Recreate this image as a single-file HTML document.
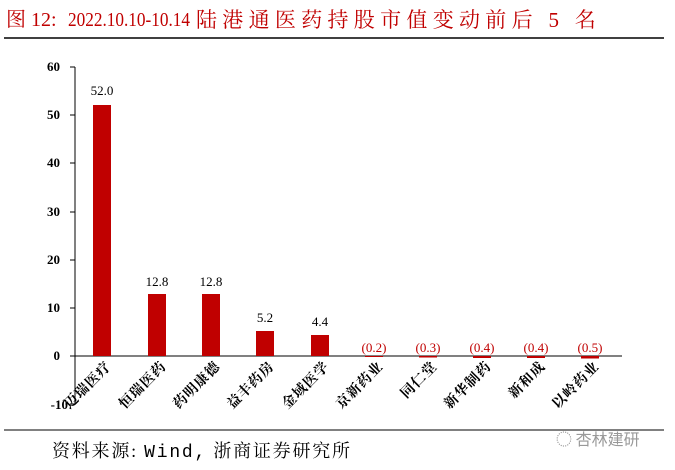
<!DOCTYPE html>
<html><head><meta charset="utf-8"><style>
body{margin:0;background:#fff;width:675px;height:465px;overflow:hidden}
</style></head><body>
<svg width="675" height="465" xmlns="http://www.w3.org/2000/svg" font-family="'Liberation Serif','Noto Serif CJK SC',serif">
<g fill="#c00000" font-size="20">
<text x="6" y="26">图 12:</text>
<text x="68" y="26" textLength="122" lengthAdjust="spacingAndGlyphs">2022.10.10-10.14</text>
<text x="196" y="27" font-size="21" letter-spacing="5.3">陆港通医药持股市值变动前后 5 名</text>
</g>
<line x1="4" y1="38" x2="664" y2="38" stroke="#000" stroke-width="1.5"/>
<line x1="4" y1="430" x2="664" y2="430" stroke="#000" stroke-width="1"/>
<text x="52" y="457" font-size="18" fill="#000" textLength="298" lengthAdjust="spacing">资料来源: <tspan font-family="'Liberation Mono',monospace">Wind,</tspan> 浙商证券研究所</text>
<text x="556" y="445" font-size="16" fill="#999" font-family="'Noto Sans CJK SC',sans-serif">◌ 杏林建研</text>
<g font-size="13" font-weight="bold" text-anchor="end">
<text x="60" y="71">60</text><text x="60" y="119">50</text><text x="60" y="167">40</text>
<text x="60" y="216">30</text><text x="60" y="264">20</text><text x="60" y="312">10</text>
<text x="60" y="360">0</text><text x="68" y="409">-10</text>
</g>
<g stroke="#000" stroke-width="1">
<line x1="75" y1="67" x2="75" y2="404"/>
<line x1="70" y1="67" x2="75" y2="67"/><line x1="70" y1="115" x2="75" y2="115"/><line x1="70" y1="163" x2="75" y2="163"/><line x1="70" y1="212" x2="75" y2="212"/><line x1="70" y1="260" x2="75" y2="260"/><line x1="70" y1="308" x2="75" y2="308"/><line x1="70" y1="356" x2="75" y2="356"/><line x1="70" y1="404" x2="75" y2="404"/>
<line x1="75" y1="356" x2="622" y2="356"/>
</g>
<g fill="#c00000">
<rect x="93" y="105" width="18" height="251"/>
<rect x="148" y="294" width="18" height="62"/>
<rect x="202" y="294" width="18" height="62"/>
<rect x="256" y="331" width="18" height="25"/>
<rect x="311" y="335" width="18" height="21"/>
<rect x="365" y="356" width="18" height="1"/>
<rect x="419" y="356" width="18" height="1.5"/>
<rect x="473" y="356" width="18" height="2"/>
<rect x="527" y="356" width="18" height="2"/>
<rect x="581" y="356" width="18" height="2.5"/>
</g>
<g font-size="13" text-anchor="middle">
<text x="102" y="95">52.0</text><text x="157" y="286">12.8</text><text x="211" y="286">12.8</text>
<text x="265" y="322">5.2</text><text x="320" y="326">4.4</text>
</g>
<g font-size="13" text-anchor="middle" fill="#c00000">
<text x="374" y="352">(0.2)</text><text x="428" y="352">(0.3)</text><text x="482" y="352">(0.4)</text><text x="536" y="352">(0.4)</text><text x="590" y="352">(0.5)</text>
</g>
<g font-size="14" font-weight="bold" text-anchor="end" letter-spacing="1" font-family="'Noto Serif CJK SC',serif">
<text transform="translate(112,367) rotate(-45)">迈瑞医疗</text>
<text transform="translate(167,367) rotate(-45)">恒瑞医药</text>
<text transform="translate(221,367) rotate(-45)">药明康德</text>
<text transform="translate(275,367) rotate(-45)">益丰药房</text>
<text transform="translate(330,367) rotate(-45)">金域医学</text>
<text transform="translate(384,367) rotate(-45)">京新药业</text>
<text transform="translate(438,367) rotate(-45)">同仁堂</text>
<text transform="translate(492,367) rotate(-45)">新华制药</text>
<text transform="translate(546,367) rotate(-45)">新和成</text>
<text transform="translate(600,367) rotate(-45)">以岭药业</text>
</g>
</svg>
</body></html>
